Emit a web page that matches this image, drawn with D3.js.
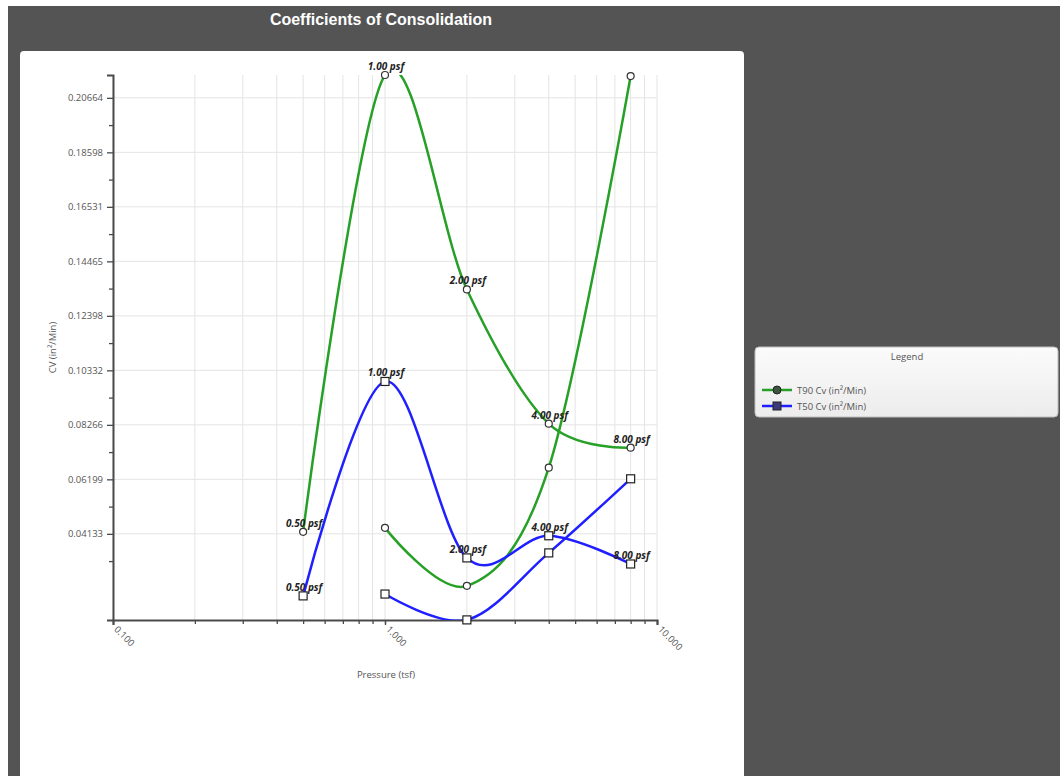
<!DOCTYPE html>
<html><head><meta charset="utf-8">
<script src="https://cdn.jsdelivr.net/npm/d3@7"></script>
<style>body{margin:0;background:#fff}svg{display:block}</style>
</head><body>
<svg id="c" width="1060" height="776"></svg>
<script>
// ---- data ----
const pressures = [0.5, 1, 2, 4, 8];
const pressureLabels = ["0.50 psf", "1.00 psf", "2.00 psf", "4.00 psf", "8.00 psf"];
const reloadPressures = [1, 2, 4, 8];
const t90Loading = [0.0421, 0.2153, 0.1340, 0.0831, 0.0740];
const t90Reload  = [0.0436, 0.0216, 0.0664, 0.2149];
const t50Loading = [0.0178, 0.0991, 0.0322, 0.0406, 0.0299];
const t50Reload  = [0.0185, 0.0087, 0.0341, 0.0622];
const yTickValues = [0.041328, 0.061992, 0.082656, 0.10332, 0.123984, 0.144648, 0.165312, 0.185976, 0.20664];
const yDomain = [0.00866, 0.2153];
const xDomain = [0.1, 10];
const seriesNames = ["T90 Cv (in²/Min)", "T50 Cv (in²/Min)"];
const seriesColors = ["#26a026", "#1f1fff"];
const chartTitle = "Coefficients of Consolidation";
const xTitle = "Pressure (tsf)";
const yTitle = "CV (in²/Min)";

// ---- layout ----
const svg = d3.select("#c");
const L = 113, R = 657, T = 75, B = 620;
const x = d3.scaleLog().domain(xDomain).range([L, R]);
const y = d3.scaleLinear().domain(yDomain).range([B, T]);

svg.append("rect").attr("x", 0).attr("y", 0).attr("width", 1060).attr("height", 776).attr("fill", "#fff");
svg.append("rect").attr("x", 8).attr("y", 6).attr("width", 1052).attr("height", 770).attr("fill", "#545454");
svg.append("rect").attr("x", 20).attr("y", 51).attr("width", 724).attr("height", 740).attr("rx", 4).attr("fill", "#fff");

svg.append("text").attr("x", 381).attr("y", 25).attr("text-anchor", "middle")
  .attr("font-family", "Liberation Sans, Arial, sans-serif").attr("font-weight", "bold")
  .attr("font-size", 16).attr("fill", "#fff").text(chartTitle);

// grid
const xTicksAll = x.ticks();
const g = svg.append("g");
g.selectAll("line.vg").data(xTicksAll).join("line")
  .attr("x1", d => x(d)).attr("x2", d => x(d)).attr("y1", T).attr("y2", B)
  .attr("stroke", "#e4e4e4").attr("stroke-width", 1);
g.selectAll("line.hg").data(yTickValues).join("line")
  .attr("x1", L).attr("x2", R).attr("y1", d => y(d)).attr("y2", d => y(d))
  .attr("stroke", "#e4e4e4").attr("stroke-width", 1);

// axes
const fontAx = "Open Sans, DejaVu Sans, sans-serif";
const yMinor = yTickValues.map(v => v - (yTickValues[1] - yTickValues[0]) / 2).filter(v => v > yDomain[0]);
const yMinorG = svg.append("g").attr("transform", `translate(${L},0)`)
  .call(d3.axisLeft(y).tickValues(yMinor).tickSize(4).tickFormat(""));
const yAx = svg.append("g").attr("transform", `translate(${L},0)`)
  .call(d3.axisLeft(y).tickValues(yTickValues).tickSize(6).tickPadding(4).tickFormat(d3.format(".5f")));
const majorX = xTicksAll.filter(d => Math.abs(Math.log10(d) - Math.round(Math.log10(d))) < 1e-9);
const xMinorG = svg.append("g").attr("transform", `translate(0,${B})`)
  .call(d3.axisBottom(x).tickValues(xTicksAll).tickSize(4).tickFormat(""));
const xAx = svg.append("g").attr("transform", `translate(0,${B})`)
  .call(d3.axisBottom(x).tickValues(majorX).tickSize(5).tickFormat(d3.format(".3f")));
[yMinorG, yAx, xMinorG, xAx].forEach(a => {
  a.select(".domain").attr("stroke", "#4a4a4a").attr("stroke-width", 2);
  a.selectAll(".tick line").attr("stroke", "#4a4a4a").attr("stroke-width", 1.3);
  a.selectAll("text").attr("font-family", fontAx).attr("font-size", 9.5).attr("fill", "#555");
});
yMinorG.select(".domain").remove(); xMinorG.select(".domain").remove();
xAx.selectAll(".tick text").attr("text-anchor", "start").attr("dy", 0).attr("y", 0)
  .attr("transform", "translate(0,10) rotate(45)");

svg.append("text").attr("x", 386).attr("y", 678).attr("text-anchor", "middle")
  .attr("font-family", fontAx).attr("font-size", 9.5).attr("fill", "#555").text(xTitle);
svg.append("text").attr("transform", `translate(56,${(T + B) / 2}) rotate(-90)`).attr("text-anchor", "middle")
  .attr("font-family", fontAx).attr("font-size", 9.5).attr("fill", "#555").text(yTitle);

// clip
svg.append("clipPath").attr("id", "pc").append("rect").attr("x", L).attr("y", T).attr("width", R - L).attr("height", B - T);

const line = d3.line().x(d => x(d.p)).y(d => y(d.v)).curve(d3.curveCardinal.tension(0));
const series = [
  { name: seriesNames[0], color: seriesColors[0], shape: "circle",
    parts: [pressures.map((p, i) => ({ p, v: t90Loading[i], lab: pressureLabels[i] })),
            reloadPressures.map((p, i) => ({ p, v: t90Reload[i] }))] },
  { name: seriesNames[1], color: seriesColors[1], shape: "square",
    parts: [pressures.map((p, i) => ({ p, v: t50Loading[i], lab: pressureLabels[i] })),
            reloadPressures.map((p, i) => ({ p, v: t50Reload[i] }))] }
];
const plot = svg.append("g").attr("clip-path", "url(#pc)");
series.forEach(s => s.parts.forEach(pts => {
  plot.append("path").attr("d", line(pts)).attr("fill", "none")
    .attr("stroke", s.color).attr("stroke-width", 2.5);
}));
const mk = svg.append("g");
series.forEach(s => s.parts.forEach(pts => {
  pts.forEach(d => {
    if (s.shape === "circle") {
      mk.append("circle").attr("cx", x(d.p)).attr("cy", y(d.v)).attr("r", 3.5)
        .attr("fill", "#fff").attr("stroke", "#333").attr("stroke-width", 1.2);
    } else {
      mk.append("rect").attr("x", x(d.p) - 4).attr("y", y(d.v) - 4).attr("width", 8).attr("height", 8)
        .attr("fill", "#fff").attr("stroke", "#222").attr("stroke-width", 1.2);
    }
    if (d.lab) {
      mk.append("text").attr("x", x(d.p) + 1).attr("y", y(d.v) - 5).attr("text-anchor", "middle")
        .attr("font-family", fontAx).attr("font-size", 10).attr("font-weight", "bold")
        .attr("font-style", "italic").attr("fill", "#222").text(d.lab);
    }
  });
}));

// legend
const defs = svg.append("defs");
const grad = defs.append("linearGradient").attr("id", "lg").attr("x1", 0).attr("x2", 0).attr("y1", 0).attr("y2", 1);
grad.append("stop").attr("offset", 0).attr("stop-color", "#fbfbfb");
grad.append("stop").attr("offset", 1).attr("stop-color", "#ececec");
const lg = svg.append("g");
lg.append("rect").attr("x", 755).attr("y", 347).attr("width", 303).attr("height", 70).attr("rx", 4)
  .attr("fill", "url(#lg)").attr("stroke", "#bdbdbd");
lg.append("text").attr("x", 907).attr("y", 360).attr("text-anchor", "middle")
  .attr("font-family", fontAx).attr("font-size", 9.5).attr("fill", "#555").text("Legend");
series.forEach((s, i) => {
  const yy = 390 + i * 16;
  lg.append("line").attr("x1", 762).attr("x2", 792).attr("y1", yy).attr("y2", yy)
    .attr("stroke", s.color).attr("stroke-width", 2.5);
  if (s.shape === "circle") {
    lg.append("circle").attr("cx", 777).attr("cy", yy).attr("r", 4).attr("fill", "#3d553d").attr("stroke", "#222");
  } else {
    lg.append("rect").attr("x", 773).attr("y", yy - 4).attr("width", 8).attr("height", 8).attr("fill", "#3b3b7a").attr("stroke", "#222");
  }
  lg.append("text").attr("x", 797).attr("y", yy + 3.5).attr("font-family", fontAx).attr("font-size", 9.5)
    .attr("fill", "#555").text(s.name);
});
</script>
</body></html>
